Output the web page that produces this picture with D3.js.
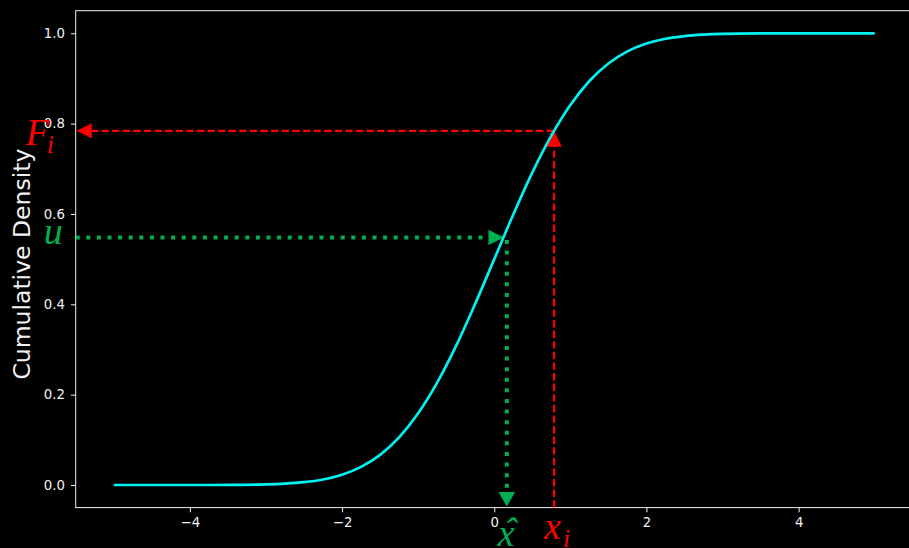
<!DOCTYPE html>
<html>
<head>
<meta charset="utf-8">
<script src="https://cdn.jsdelivr.net/npm/d3@7"></script>
<style>
  html, body { margin: 0; padding: 0; background: #000; }
  svg { display: block; }
</style>
</head>
<body>
<svg id="chart" width="909" height="548"></svg>
<script>
// CDF curve samples (x, cumulative density)
const curveX = [-5, -4.5, -4, -3.5, -3, -2.75, -2.5, -2.25, -2, -1.75, -1.5, -1.25, -1, -0.75, -0.5, -0.25,
                0, 0.25, 0.5, 0.75, 1, 1.25, 1.5, 1.75, 2, 2.25, 2.5, 2.75, 3, 3.5, 4, 4.5, 5];
const curveY = [0.0000, 0.0000, 0.0000, 0.0002, 0.0013, 0.0030, 0.0062, 0.0122, 0.0228, 0.0401, 0.0668, 0.1056, 0.1587, 0.2266, 0.3085, 0.4013,
                0.5000, 0.5987, 0.6915, 0.7734, 0.8413, 0.8944, 0.9332, 0.9599, 0.9772, 0.9878, 0.9938, 0.9970, 0.9987, 0.9998, 1.0000, 1.0000, 1.0000];

// Guide values: observed point (x_i, F_i) and sampled point (u -> x-hat)
const sampleXi = 0.786;
const sampleFi = 0.784;
const uniformU = 0.548;
const uCurveHit = 0.13;
const xHat = 0.165;

// Axis limits and ticks
const xDomain = [-5.5, 5.5];
const yDomain = [-0.05, 1.05];
const xTicks = [-4, -2, 0, 2, 4];
const yTicks = [0.0, 0.2, 0.4, 0.6, 0.8, 1.0];

const yLabel = "Cumulative Density";

const svg = d3.select("#chart");
svg.append("rect").attr("width", 909).attr("height", 548).attr("fill", "#000");

const plotLeft = 75.7, plotRight = 912.8, plotTop = 10.7, plotBottom = 507.6;
const x = d3.scaleLinear().domain(xDomain).range([plotLeft, plotRight]);
const y = d3.scaleLinear().domain(yDomain).range([plotBottom, plotTop]);

const fg = "#f2f2f2";
const red = "#ff0000";
const green = "#00b050";
const cyan = "#00f2f2";

// Axes
const xAxis = d3.axisBottom(x).tickValues(xTicks).tickSize(4.7).tickPadding(5)
  .tickFormat(d3.format("d"));
const yAxis = d3.axisLeft(y).tickValues(yTicks).tickSize(4.7).tickPadding(6)
  .tickFormat(d3.format(".1f"));

const gx = svg.append("g").attr("transform", `translate(0,${plotBottom})`).call(xAxis);
const gy = svg.append("g").attr("transform", `translate(${plotLeft},0)`).call(yAxis);
[gx, gy].forEach(g => {
  g.select(".domain").remove();
  g.selectAll(".tick line").attr("stroke", fg).attr("stroke-width", 1);
  g.selectAll(".tick text").attr("fill", fg)
    .style("font-family", "DejaVu Sans").style("font-size", "13.3px");
});

// Spines
svg.append("rect")
  .attr("x", plotLeft).attr("y", plotTop)
  .attr("width", plotRight - plotLeft).attr("height", plotBottom - plotTop)
  .attr("fill", "none").attr("stroke", fg).attr("stroke-width", 1);

// Y label
svg.append("text")
  .attr("transform", `translate(29.5,${(plotTop + plotBottom) / 2 + 5}) rotate(-90)`)
  .attr("text-anchor", "middle")
  .attr("fill", fg)
  .style("font-family", "DejaVu Sans").style("font-size", "23.5px")
  .text(yLabel);

// Arrow head helper: tip at (tx,ty), pointing in direction (dx,dy)
function head(tx, ty, dx, dy, len, half, color) {
  const px = -dy, py = dx;
  const bx = tx - dx * len, by = ty - dy * len;
  svg.append("path")
    .attr("d", `M${tx},${ty}L${bx + px * half},${by + py * half}L${bx - px * half},${by - py * half}Z`)
    .attr("fill", color);
}

// Red dashed guides: x_i up to curve, F_i left to axis
svg.append("line")
  .attr("x1", x(sampleXi)).attr("x2", x(sampleXi))
  .attr("y1", y(yDomain[0])).attr("y2", y(sampleFi) + 14)
  .attr("stroke", red).attr("stroke-width", 2.2).attr("stroke-dasharray", "7.4 3.2");
head(x(sampleXi), y(sampleFi), 0, -1, 16, 7.8, red);

svg.append("line")
  .attr("x1", x(sampleXi)).attr("x2", x(xDomain[0]) + 14)
  .attr("y1", y(sampleFi)).attr("y2", y(sampleFi))
  .attr("stroke", red).attr("stroke-width", 2.2).attr("stroke-dasharray", "7.4 3.2");
head(x(xDomain[0]) + 1, y(sampleFi), -1, 0, 15, 7.6, red);

// Green dotted guides: u right to curve, then down to x-hat
svg.append("line")
  .attr("x1", x(xDomain[0])).attr("x2", x(uCurveHit) - 14)
  .attr("y1", y(uniformU)).attr("y2", y(uniformU))
  .attr("stroke", green).attr("stroke-width", 4).attr("stroke-dasharray", "4 6.6");
head(x(uCurveHit), y(uniformU), 1, 0, 15.7, 7.6, green);

svg.append("line")
  .attr("x1", x(xHat)).attr("x2", x(xHat))
  .attr("y1", y(uniformU) + 2.5).attr("y2", y(yDomain[0]) - 14)
  .attr("stroke", green).attr("stroke-width", 4).attr("stroke-dasharray", "4 6.6");
head(x(xHat), y(yDomain[0]) - 1, 0, 1, 14.7, 8.3, green);

// CDF curve
const pts = curveX.map((v, i) => [v, curveY[i]]);
svg.append("path")
  .datum(pts)
  .attr("d", d3.line().x(d => x(d[0])).y(d => y(d[1])).curve(d3.curveMonotoneX))
  .attr("fill", "none").attr("stroke", cyan).attr("stroke-width", 2.7);

// Math labels
const mathFont = "Liberation Serif";
function mathText(tx, ty, str, size, color) {
  return svg.append("text")
    .attr("x", tx).attr("y", ty)
    .attr("fill", color)
    .style("font-family", mathFont).style("font-style", "italic").style("font-size", size + "px")
    .text(str);
}
// F_i
mathText(x(xDomain[0]) - 50, y(sampleFi) + 14, "F", 38, red);
mathText(x(xDomain[0]) - 29, y(sampleFi) + 22, "i", 26, red);
// u
mathText(x(xDomain[0]) - 32, y(uniformU) + 7, "u", 38, green);
// x-hat
mathText(x(xHat) - 9, y(yDomain[0]) + 38, "x", 38, green);
mathText(x(xHat) - 3, y(yDomain[0]) + 36, "\u02C6", 38, green);
// x_i
mathText(x(sampleXi) - 10, y(yDomain[0]) + 31, "x", 38, red);
mathText(x(sampleXi) + 9, y(yDomain[0]) + 39, "i", 26, red);
</script>
</body>
</html>
